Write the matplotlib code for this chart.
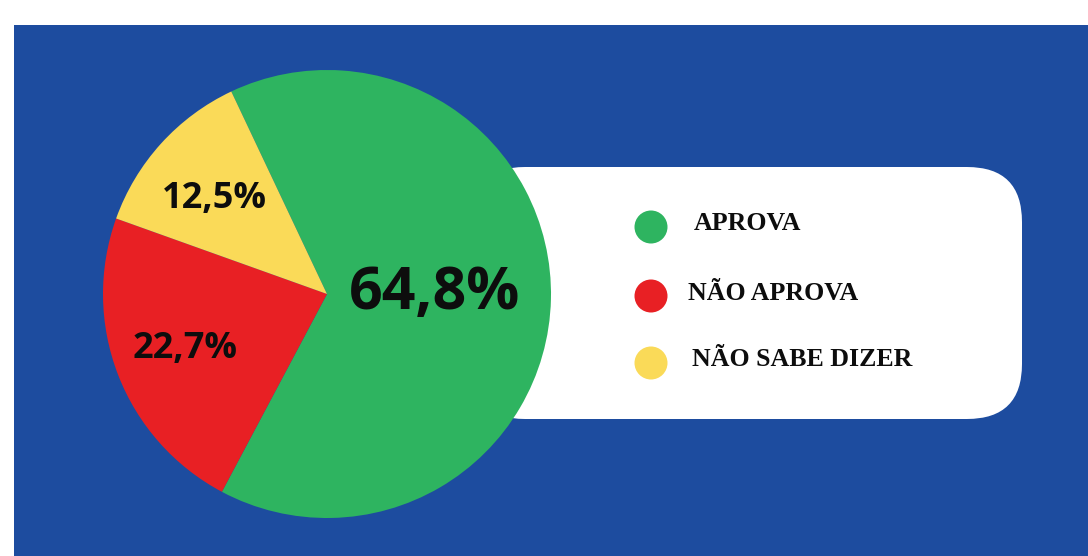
import matplotlib
matplotlib.use("Agg")
import numpy as np
import matplotlib.pyplot as plt
from matplotlib.patches import Rectangle, FancyBboxPatch

# dados da pesquisa
categorias = ["APROVA", "NÃO APROVA", "NÃO SABE DIZER"]
valores = [64.8, 22.7, 12.5]
cores = ["#2EB460", "#E82024", "#FADA58"]

W, H = 1088, 556
fig = plt.figure(figsize=(W / 100, H / 100), dpi=100)
fig.patch.set_facecolor("white")
ax = fig.add_axes([0, 0, 1, 1])

# fundo azul e caixa branca da legenda (coordenadas em pixels, y para cima)
ax.add_patch(Rectangle((14, 0), W - 14, 531, facecolor="#1D4C9F", edgecolor="none", zorder=0))
ax.add_patch(FancyBboxPatch((470 + 55, 137 + 55), 1022 - 470 - 110, 252 - 110,
                            boxstyle="round,pad=55", facecolor="white",
                            edgecolor="none", zorder=1))

wedges, _ = ax.pie(valores, colors=cores, startangle=115.3, counterclock=False,
                   center=(327, 262), radius=224, frame=True,
                   wedgeprops=dict(linewidth=0, zorder=2))
for w in wedges:
    w.set_zorder(2)

# rótulos percentuais dentro das fatias
dist = [0.48, 0.68, 0.66]
desvio = [1.5, 0.0, 2.0]   # graus
tam = [42.5, 26, 26]
for w, v, d, a, s in zip(wedges, valores, dist, desvio, tam):
    ang = np.deg2rad((w.theta1 + w.theta2) / 2 + a)
    x = 327 + d * 224 * np.cos(ang)
    y = 262 + d * 224 * np.sin(ang)
    ax.text(x, y, f"{v:.1f}".replace(".", ",") + "%", ha="center", va="center",
            fontsize=s, fontweight="bold", family="Open Sans", color="#0d0d0d", zorder=3)

# legenda manual
ys = [556 - 227, 556 - 296, 556 - 363]
ax.scatter([651] * 3, ys, s=33 ** 2 * 0.72 ** 2, c=cores, zorder=3, linewidths=0)
for cat, y, dx in zip(categorias, ys, [43, 37, 41]):
    ax.text(651 + dx, y + 3, cat, ha="left", va="center", fontsize=18.6,
            fontweight="bold", family="Liberation Serif", color="#0d0d0d", zorder=3)

ax.set_xlim(0, W)
ax.set_ylim(0, H)
ax.set_aspect("auto")
ax.axis("off")

fig.savefig("out.png", dpi=100, facecolor="white")
